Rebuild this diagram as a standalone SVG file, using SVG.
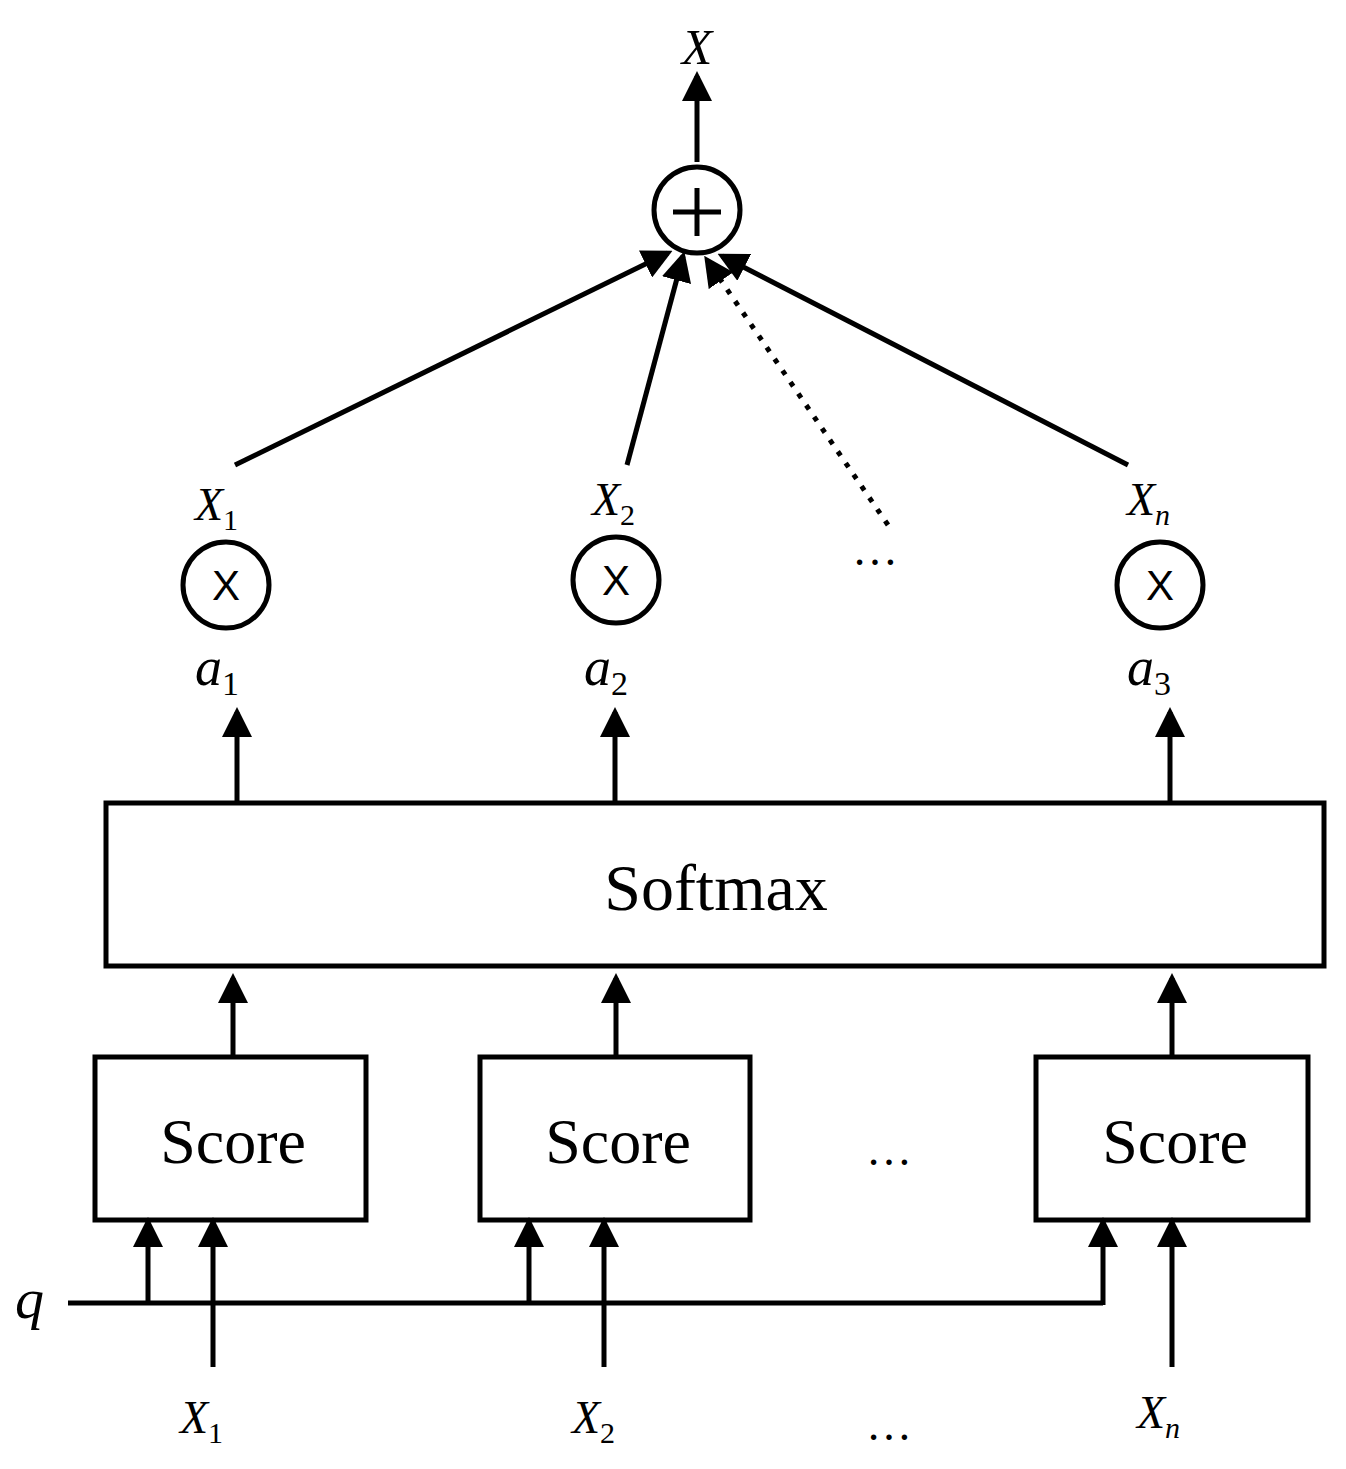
<svg xmlns="http://www.w3.org/2000/svg" width="1346" height="1469" viewBox="0 0 1346 1469">
<style>
.l{stroke:#000;stroke-width:5;fill:none}
.t{font-family:"Liberation Serif",serif;fill:#000}
.i{font-style:italic}
</style>
<defs><marker id="a" markerWidth="6" markerHeight="6" refX="5" refY="3" orient="auto" markerUnits="strokeWidth"><path d="M0,0L6,3L0,6z" fill="#000"/></marker></defs>
<rect width="1346" height="1469" fill="#fff"/>
<g id="connectors" class="l">
<line x1="697" y1="162" x2="697" y2="76" marker-end="url(#a)"/>
<line x1="235" y1="465" x2="668" y2="253" marker-end="url(#a)"/>
<line x1="627" y1="465" x2="683" y2="256" marker-end="url(#a)"/>
<line x1="888" y1="525" x2="707" y2="260" stroke-dasharray="5,9" marker-end="url(#a)"/>
<line x1="1128" y1="465" x2="722" y2="256" marker-end="url(#a)"/>
<line x1="237" y1="803" x2="237" y2="712" marker-end="url(#a)"/>
<line x1="615" y1="803" x2="615" y2="712" marker-end="url(#a)"/>
<line x1="1170" y1="803" x2="1170" y2="712" marker-end="url(#a)"/>
<line x1="233" y1="1057" x2="233" y2="978" marker-end="url(#a)"/>
<line x1="616" y1="1057" x2="616" y2="978" marker-end="url(#a)"/>
<line x1="1172" y1="1057" x2="1172" y2="978" marker-end="url(#a)"/>
<polyline points="68,1303 1103,1303"/>
<line x1="148" y1="1305" x2="148" y2="1222" marker-end="url(#a)"/>
<line x1="529" y1="1305" x2="529" y2="1222" marker-end="url(#a)"/>
<line x1="1103" y1="1305" x2="1103" y2="1222" marker-end="url(#a)"/>
<line x1="213" y1="1367" x2="213" y2="1222" marker-end="url(#a)"/>
<line x1="604" y1="1367" x2="604" y2="1222" marker-end="url(#a)"/>
<line x1="1172" y1="1367" x2="1172" y2="1222" marker-end="url(#a)"/>
</g>
<g id="sum"><circle class="l" cx="697" cy="210" r="43"/><path class="l" d="M673,212H721M697,188V236" stroke-width="6"/></g>
<text class="t i" x="697" y="64" font-size="50" text-anchor="middle">X</text>
<g id="m1"><circle class="l" cx="226" cy="585" r="43"/><text x="226" y="600" font-family="Liberation Sans,sans-serif" font-size="42" text-anchor="middle">X</text></g>
<g id="m2"><circle class="l" cx="616" cy="580" r="43"/><text x="616" y="595" font-family="Liberation Sans,sans-serif" font-size="42" text-anchor="middle">X</text></g>
<g id="m3"><circle class="l" cx="1160" cy="585" r="43"/><text x="1160" y="600" font-family="Liberation Sans,sans-serif" font-size="42" text-anchor="middle">X</text></g>
<g class="t" font-size="46">
<text x="195" y="520"><tspan class="i">X</tspan><tspan font-size="30" dy="10">1</tspan></text>
<text x="592" y="515"><tspan class="i">X</tspan><tspan font-size="30" dy="10">2</tspan></text>
<text x="1127" y="515"><tspan class="i">X</tspan><tspan font-size="30" dy="10" class="i">n</tspan></text>
<text x="852" y="565" font-size="46">…</text>
<text x="195" y="685" font-size="54" class="i">a<tspan font-size="34" class="" font-style="normal" dy="10">1</tspan></text>
<text x="584" y="685" font-size="54" class="i">a<tspan font-size="34" font-style="normal" dy="10">2</tspan></text>
<text x="1127" y="685" font-size="54" class="i">a<tspan font-size="34" font-style="normal" dy="10">3</tspan></text>
</g>
<g id="softmax"><rect class="l" x="106" y="803" width="1218" height="163"/><text class="t" x="716" y="910" font-size="66" text-anchor="middle">Softmax</text></g>
<g id="s1"><rect class="l" x="95" y="1057" width="271" height="163"/><text class="t" x="233" y="1163" font-size="64" text-anchor="middle">Score</text></g>
<g id="s2"><rect class="l" x="480" y="1057" width="270" height="163"/><text class="t" x="618" y="1163" font-size="64" text-anchor="middle">Score</text></g>
<g id="s3"><rect class="l" x="1036" y="1057" width="272" height="163"/><text class="t" x="1175" y="1163" font-size="64" text-anchor="middle">Score</text></g>
<g class="t" font-size="46">
<text x="866" y="1165">…</text>
<text x="15" y="1318" font-size="58" class="i">q</text>
<text x="180" y="1433"><tspan class="i">X</tspan><tspan font-size="30" dy="10">1</tspan></text>
<text x="572" y="1433"><tspan class="i">X</tspan><tspan font-size="30" dy="10">2</tspan></text>
<text x="1137" y="1428"><tspan class="i">X</tspan><tspan font-size="30" dy="10" class="i">n</tspan></text>
<text x="866" y="1440">…</text>
</g>
</svg>
